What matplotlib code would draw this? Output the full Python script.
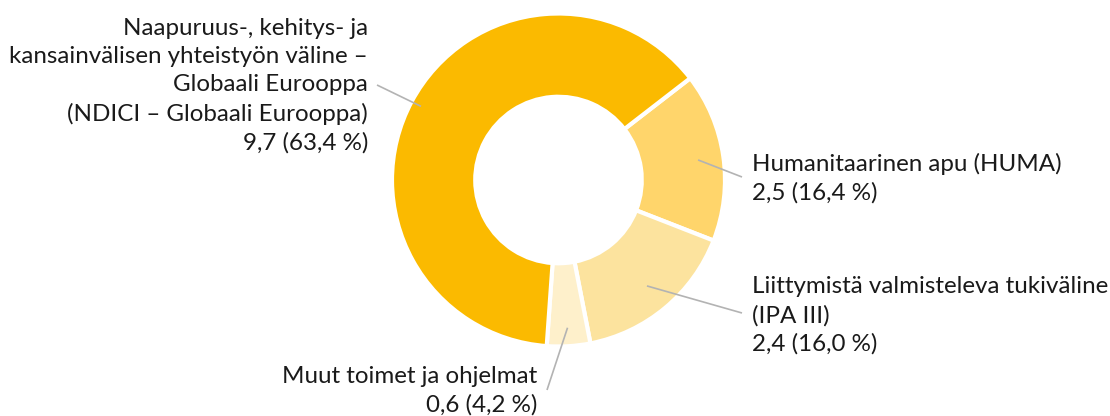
import numpy as np
import matplotlib
matplotlib.use("Agg")
import matplotlib.pyplot as plt

# ---- data ----
categories = [
    "Humanitaarinen apu (HUMA)",
    "Liittymistä valmisteleva tukiväline\n(IPA III)",
    "Muut toimet ja ohjelmat",
    "Naapuruus-, kehitys- ja\nkansainvälisen yhteistyön väline –\nGlobaali Eurooppa\n(NDICI – Globaali Eurooppa)",
]
values = [2.5, 2.4, 0.6, 9.7]          # mrd euroa
shares = [16.4, 16.0, 4.2, 63.4]       # %
value_labels = ["2,5 (16,4 %)", "2,4 (16,0 %)", "0,6 (4,2 %)", "9,7 (63,4 %)"]
colors = ["#FFD56B", "#FCE39E", "#FEF0CB", "#FBBA00"]

# ---- figure in pixel coordinates ----
W, H = 1110, 416
fig = plt.figure(figsize=(W / 100, H / 100), dpi=100)
ax = fig.add_axes([0, 0, 1, 1])

cx, cy = 558.5, H - 180
R = 166.5
start = 37.7

wedges, _ = ax.pie(
    shares, colors=colors, startangle=start, counterclock=False,
    radius=R, center=(cx, cy),
    wedgeprops=dict(width=R * 0.5, edgecolor="white", linewidth=3.0),
)
ax.set_xlim(0, W)
ax.set_ylim(0, H)
ax.set_aspect("equal")
ax.axis("off")

font = "Lato"
fs = 17.4
line_c = "#B3B3B3"

# label layout per wedge: (start radius, leader end (x, y from top), text anchor (x, last-line baseline from top), ha)
layout = [
    (141, (742, 177), (752, 200), "left"),
    (138, (742, 313), (752, 351), "left"),
    (148, (547, 390), (537, 412), "right"),
    (156, (377, 85), (368, 150), "right"),
]

for w, cat, vl, (r0, (ex, ey), (tx, ty), ha) in zip(wedges, categories, value_labels, layout):
    mid = np.deg2rad((w.theta1 + w.theta2) / 2)
    sx, sy = cx + r0 * np.cos(mid), cy + r0 * np.sin(mid)
    ax.plot([sx, ex], [sy, H - ey], color=line_c, lw=1.2, solid_capstyle="butt")
    ax.text(tx, H - ty, cat + "\n" + vl, ha=ha, va="baseline", multialignment=ha,
            fontsize=fs, family=font, color="#1a1a1a", linespacing=1.42)

fig.savefig("out.png", dpi=100)
